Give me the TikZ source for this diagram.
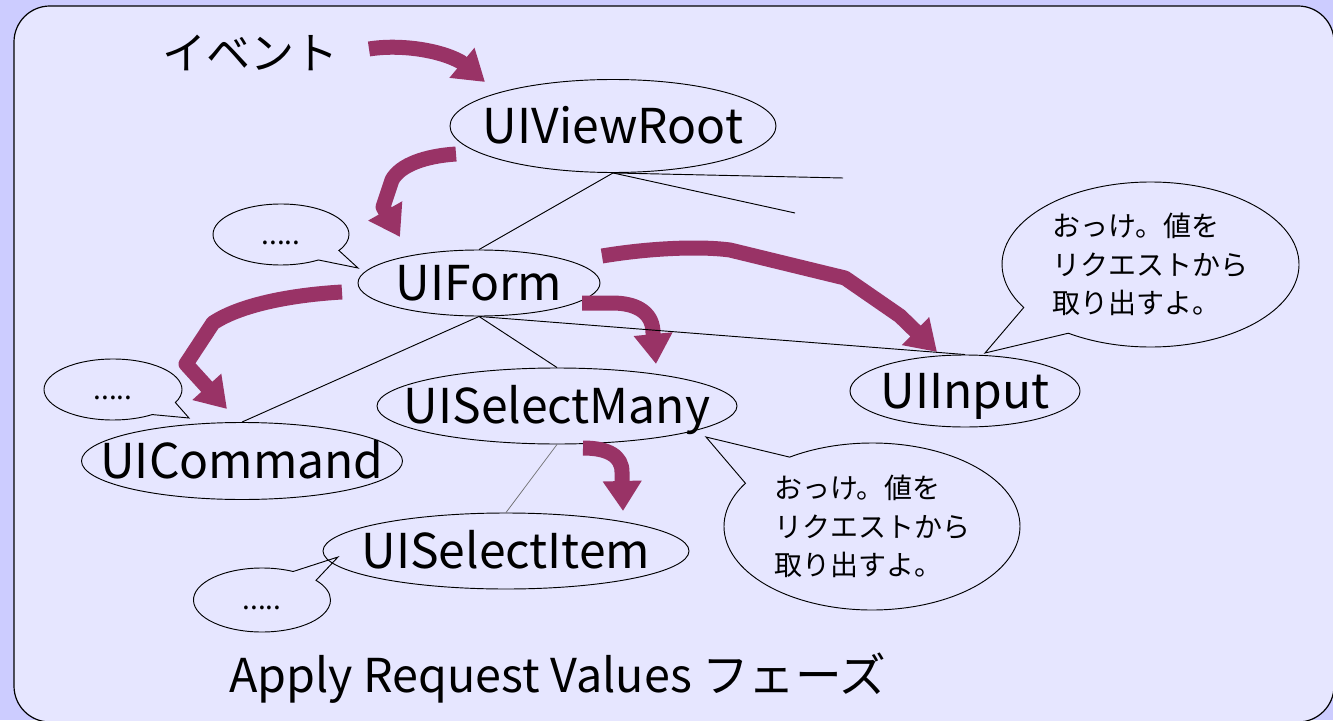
\documentclass[tikz,border=0pt]{standalone}
\usepackage{fontspec}
\setmainfont{Noto Sans CJK JP}
\usetikzlibrary{shapes.geometric,shapes.callouts,arrows.meta}
\definecolor{outerbg}{RGB}{204,204,255}
\definecolor{innerbg}{RGB}{230,230,255}
\definecolor{flow}{RGB}{153,51,102}
\newcommand{\zw}[1]{\makebox[0pt]{#1}}
\begin{document}
\begin{tikzpicture}[x=0.75pt,y=-0.75pt,
  comp/.style={ellipse, draw, line width=0.7pt, inner sep=0pt,
    font=\fontsize{36pt}{42pt}\selectfont, text height=26.5pt, text depth=0pt},
  bubble/.style={ellipse callout, draw, line width=0.7pt, inner sep=0pt, callout pointer arc=25},
  dots/.style={bubble, font=\fontsize{21pt}{24pt}\selectfont, text height=14.5pt, text depth=0pt},
  talk/.style={bubble, font=\fontsize{21pt}{29pt}\selectfont, align=left},
  edge/.style={line width=0.7pt},
  thinedge/.style={line width=0.5pt, draw=black!60},
  flowarrow/.style={draw=flow, line width=11.25pt, line join=round,
    -{Triangle[length=22.5pt,width=27.75pt]}},
  bigtext/.style={font=\fontsize{33pt}{38pt}\selectfont},
  phasetext/.style={font=\fontsize{35pt}{42pt}\selectfont}
]
\useasboundingbox (0,0) rectangle (1333,720);
\fill[outerbg] (0,0) rectangle (1333,720);
\draw[fill=innerbg, rounded corners=27pt, line width=0.9pt] (14,6) rectangle (1334,722);

% components
\node[comp, minimum width=244.5pt, minimum height=69.75pt] (root) at (613,126) {\zw{UIViewRoot}};
\node[comp, minimum width=181.5pt, minimum height=49.5pt] (form) at (479,283) {\zw{UIForm}};
\node[comp, minimum width=240.75pt, minimum height=57.75pt] (cmd) at (242,461) {\zw{UICommand}};
\node[comp, minimum width=270pt, minimum height=57pt] (many) at (557,406) {\zw{UISelectMany}};
\node[comp, minimum width=172.5pt, minimum height=54pt] (input) at (965,391) {\zw{UIInput}};
\node[comp, minimum width=274.5pt, minimum height=57pt] (item) at (506,551) {\zw{UISelectItem}};

% callouts
\node[dots, minimum width=102pt, minimum height=45.75pt, callout absolute pointer={(358,268)}] (c1) at (281,234.5) {\zw{.....}};
\node[dots, minimum width=103.5pt, minimum height=45.75pt, callout pointer arc=30, callout absolute pointer={(189,418)}] (c2) at (113,389.5) {\zw{.....}};
\node[dots, minimum width=102.75pt, minimum height=48pt, callout absolute pointer={(338,557)}] (c3) at (262,600) {\zw{.....}};
\node[talk, minimum width=222.75pt, minimum height=123.75pt, callout absolute pointer={(985,353)}] (c4) at (1150.5,264.5) {おっけ。値を\\リクエストから\\取り出すよ。};
\node[talk, minimum width=222pt, minimum height=125.25pt, callout absolute pointer={(706,437)}] (c5) at (872,526.5) {おっけ。値を\\リクエストから\\取り出すよ。};

% texts
\node[bigtext] (evt) at (250,53) {イベント};
\node[phasetext, anchor=base] (phase) at (558,692) {Apply Request Values フェーズ};

% flow arrows
\draw[flowarrow] (369,49) .. controls (400,44) and (440,50) .. (461,62) -- (485,82);
\draw[flowarrow] (456,154) .. controls (425,156) and (400,165) .. (392,180) -- (383,207) -- (400,237);
\draw[flowarrow] (602,256) .. controls (650,248) and (700,246) .. (730,250) -- (845,278) -- (900,316) -- (937,352);
\draw[flowarrow] (582,303) -- (612,303) .. controls (640,303) and (653,315) .. (653,333) -- (656,364);
\draw[flowarrow] (342,292) .. controls (290,295) and (240,305) .. (213,323) -- (186,364) -- (227,409);
\draw[flowarrow] (583,448) .. controls (608,448) and (622,456) .. (622,472) -- (623,511);

% tree lines
\coordinate (r1) at (843,178);
\coordinate (r2) at (795,213);
\draw[edge] (root.south) -- (form.north);
\draw[edge] (root.south) -- (r1);
\draw[edge] (root.south) -- (r2);
\draw[edge] (form.south) -- (cmd.north);
\draw[edge] (form.south) -- (many.north);
\draw[edge] (form.south) -- (input.north);
\draw[thinedge] (many.south) -- (item.north);
\end{tikzpicture}
\end{document}
